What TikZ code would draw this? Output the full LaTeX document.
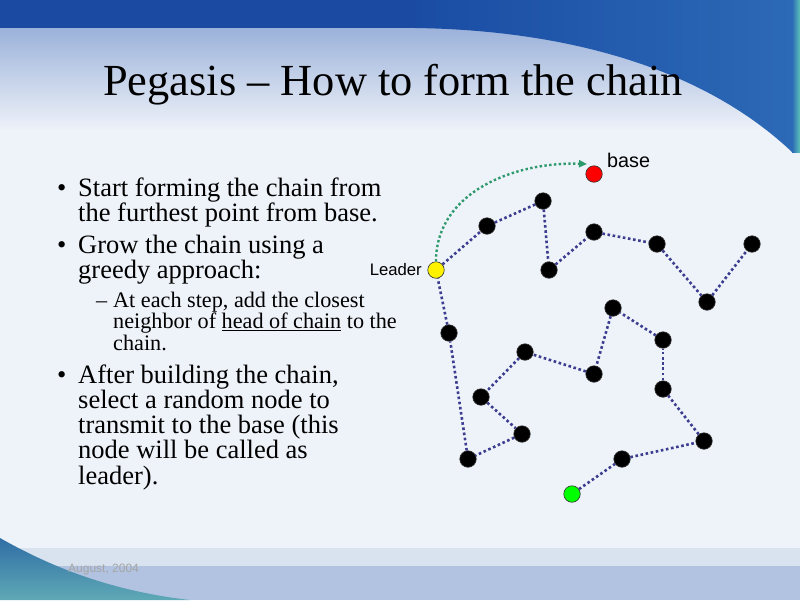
\documentclass[tikz,border=0pt]{standalone}
\usepackage{fontspec}
\setmainfont{Liberation Serif}
\setsansfont{Liberation Sans}
\usepackage{xcolor}
\definecolor{topblue}{HTML}{1A4AA2}
\definecolor{bandblue}{HTML}{9CB2DA}
\definecolor{paper}{HTML}{EEF2F9}
\definecolor{swooshdark}{HTML}{1A4CA4}
\definecolor{swooshlight}{HTML}{2C69B6}
\definecolor{edgeteal}{HTML}{5CC4B8}
\definecolor{footlight}{HTML}{D9E2EF}
\definecolor{footblue}{HTML}{B2C3E1}
\definecolor{cornerblue}{HTML}{2F6EA6}
\definecolor{cornerteal}{HTML}{5FA9B5}
\definecolor{linkblue}{HTML}{3C3D8E}
\definecolor{arrowgreen}{HTML}{2E9A6C}
\definecolor{footgray}{HTML}{A5A5A5}
\usepackage{tikz}
\usetikzlibrary{arrows.meta}

\begin{document}
\begin{tikzpicture}[x=1pt, y=-1pt]
    \tikzset{%
        sensor/.style={circle, inner sep=0pt, minimum size=16.5pt, draw=black!80, line width=0.6pt, fill=#1},
        sensor/.default=black,
        link/.style={draw=linkblue, line width=2.6pt, dash pattern=on 2.6pt off 2.6pt},
        hop/.style={draw=arrowgreen, line width=2.4pt, dash pattern=on 2.4pt off 2.4pt,
                -{Triangle[length=8pt, width=7pt]}},
        item/.style={anchor=base west, inner sep=0pt, font=\fontsize{26.5}{25.3}\selectfont},
        subitem/.style={anchor=base west, inner sep=0pt, font=\fontsize{22.2}{21.5}\selectfont},
        tag/.style={inner sep=0pt, font=\sffamily},
    }

    \useasboundingbox (0, 0) rectangle (800, 600);

    % slide background
    \fill [paper] (0, 0) rectangle (800, 600);
    \shade [top color=bandblue, bottom color=paper] (0, 28) rectangle (800, 130);
    \fill [topblue] (0, 0) rectangle (800, 28);
    \shade [left color=swooshdark, right color=swooshlight]
        (415, 0) -- (415, 28) .. controls (560, 30) and (700, 65) .. (792, 152) -- (792, 0) -- cycle;
    \shade [left color=swooshlight, right color=edgeteal] (792, 0) rectangle (800, 152);
    % footer
    \fill [footlight] (0, 548) rectangle (800, 566);
    \fill [footblue] (0, 566) rectangle (800, 600);
    \shade [top color=cornerblue, bottom color=cornerteal]
        (0, 538) .. controls (60, 572) and (120, 592) .. (190, 600) -- (0, 600) -- cycle;
    \node [tag, anchor=base west, text=footgray, font=\sffamily\fontsize{12}{12}\selectfont] (date) at (68, 572) {August, 2004};

    % title
    \node [anchor=base, inner sep=0pt, font=\fontsize{44.4}{44.4}\selectfont] (title) at (393, 95) {Pegasis – How to form the chain};

    % bullets
    \node [item] (first) at (57, 196) {\makebox[21pt][l]{\textbullet}\parbox[t]{320pt}{Start forming the chain from\\the furthest point from base.}};
    \node [item] (grow) at (57, 253) {\makebox[21pt][l]{\textbullet}\parbox[t]{320pt}{Grow the chain using a\\greedy approach:}};
    \node [subitem] (step) at (96, 307) {\makebox[17pt][l]{–}\parbox[t]{300pt}{At each step, add the closest\\neighbor of \underline{head of chain} to the\\chain.}};
    \node [item] (after) at (57, 383) {\makebox[21pt][l]{\textbullet}\parbox[t]{320pt}{After building the chain,\\select a random node to\\transmit to the base (this\\node will be called as\\leader).}};

    % sensors
    \foreach \name/\x/\y in {c1/622/459, c2/704/441, c3/663/389, c4/663/340, c5/613/308,
            c6/594/374, c7/525/352, c8/481/397, c9/522/434, c10/468/459, c11/449/333,
            c12/487/226, c13/543/201, c14/549/270, c15/594/232, c16/657/244, c17/707/302, c18/752/244} {%
            \node [sensor] (\name) at (\x, \y) {};
        }
    \node [sensor=green] (start) at (572, 494) {};
    \node [sensor=yellow] (leader) at (436, 270) {};
    \node [sensor=red] (base) at (594, 174) {};

    % chain
    \foreach \a/\b in {start/c1, c1/c2, c2/c3, c3/c4, c4/c5, c5/c6, c6/c7, c7/c8, c8/c9, c9/c10,
            c10/c11, c11/leader, leader/c12, c12/c13, c13/c14, c14/c15, c15/c16, c16/c17, c17/c18} {%
            \draw [link] (\a) -- (\b);
        }

    % leader to base
    \coordinate (arrowend) at (587, 164);
    \draw [hop] (leader.north) to [out=90, in=178] (arrowend);

    \node [tag, anchor=base west, font=\sffamily\fontsize{19.8}{19.8}\selectfont] (baselabel) at (607, 167) {base};
    \node [tag, anchor=base east, font=\sffamily\fontsize{16.7}{16.7}\selectfont] (leaderlabel) at (422, 275) {Leader};

\end{tikzpicture}
\end{document}
